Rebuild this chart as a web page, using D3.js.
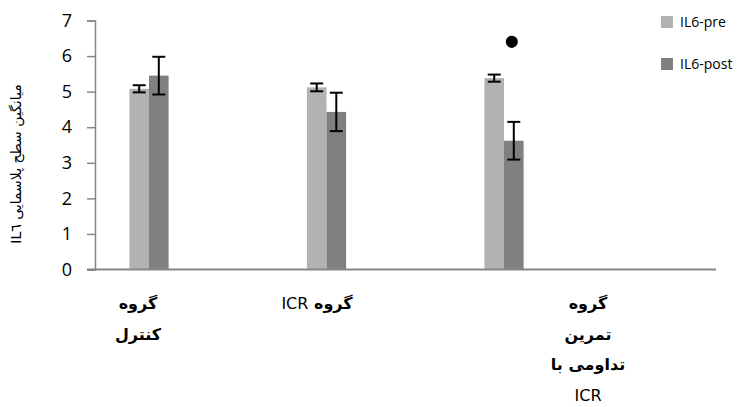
<!DOCTYPE html>
<html>
<head>
<meta charset="utf-8">
<script src="https://cdn.jsdelivr.net/npm/d3@7"></script>
<style>
  html, body { margin: 0; padding: 0; background: #fff; }
  svg { display: block; }
</style>
</head>
<body>
<svg id="chart" width="751" height="407"></svg>
<script>
// Group names (category labels, wrapped into lines)
const categories = ["control", "icr", "endurance_icr"];
const categoryLines = [
  ["گروه", "کنترل"],
  ["گروه ICR"],
  ["گروه", "تمرین", "تداومی با", "ICR"]
];
const seriesNames = ["IL6-pre", "IL6-post"];
const preValues = [5.08, 5.12, 5.38];
const postValues = [5.45, 4.43, 3.62];
const preErrors = [0.10, 0.11, 0.10];
const postErrors = [0.53, 0.54, 0.53];
// Significance marker sits above the post bar of the last group
const markerValue = [null, null, 6.4];
const yTicks = [0, 1, 2, 3, 4, 5, 6, 7];
const yTitle = "میانگین سطح پلاسمایی IL٦";

const colors = { "IL6-pre": "#b2b2b2", "IL6-post": "#808080" };
const values = { "IL6-pre": preValues, "IL6-post": postValues };
const errors = { "IL6-pre": preErrors, "IL6-post": postErrors };

const svg = d3.select("#chart");

const axisLeft = 95, axisRight = 716;
const y = d3.scaleLinear().domain([0, 7]).range([269.5, 20.5]);

// Group slots along the category axis
const x = d3.scaleBand().domain(categories).range([60.25, 592.75]).padding(0);
const xs = d3.scaleBand().domain(seriesNames).range([-19.6, 19.6]).padding(0);
const groupCenter = c => x(c) + x.bandwidth() / 2;

// Y axis
const yAxis = d3.axisLeft(y).tickValues(yTicks).tickSize(8).tickPadding(15).tickFormat(d3.format("d"));
const gy = svg.append("g").attr("transform", `translate(${axisLeft},0)`).call(yAxis);
gy.select(".domain").attr("stroke", "#868686").attr("stroke-width", 1.5);
gy.selectAll(".tick line").attr("stroke", "#868686").attr("stroke-width", 1.5);
gy.selectAll(".tick text")
  .attr("fill", "#000")
  .style("font-family", "'Open Sans', 'Liberation Sans', sans-serif")
  .style("font-size", "18px");

// Y axis title
svg.append("text")
  .attr("transform", `translate(21,${164}) rotate(-90)`)
  .attr("text-anchor", "middle")
  .attr("direction", "rtl")
  .style("font-family", "'DejaVu Sans', sans-serif")
  .style("font-size", "14px")
  .attr("fill", "#000")
  .text(yTitle);

// Bars
const rows = [];
categories.forEach((c, i) => {
  seriesNames.forEach(s => {
    rows.push({ c, s, v: values[s][i], e: errors[s][i] });
  });
});

svg.append("g").selectAll("rect").data(rows).join("rect")
  .attr("x", d => groupCenter(d.c) + xs(d.s))
  .attr("width", xs.bandwidth())
  .attr("y", d => y(d.v))
  .attr("height", d => y(0) - y(d.v))
  .attr("fill", d => colors[d.s]);

// Error bars
const eb = svg.append("g").attr("stroke", "#000").attr("stroke-width", 2);
rows.forEach(d => {
  const cx = groupCenter(d.c) + xs(d.s) + xs.bandwidth() / 2;
  eb.append("line").attr("x1", cx).attr("x2", cx).attr("y1", y(d.v + d.e)).attr("y2", y(d.v - d.e));
  eb.append("line").attr("x1", cx - 6.5).attr("x2", cx + 6.5).attr("y1", y(d.v + d.e)).attr("y2", y(d.v + d.e));
  eb.append("line").attr("x1", cx - 6.5).attr("x2", cx + 6.5).attr("y1", y(d.v - d.e)).attr("y2", y(d.v - d.e));
});

// X axis line
svg.append("line")
  .attr("x1", axisLeft - 8).attr("x2", axisRight)
  .attr("y1", y(0)).attr("y2", y(0))
  .attr("stroke", "#868686").attr("stroke-width", 2);

// Significance marker
categories.forEach((c, i) => {
  if (markerValue[i] == null) return;
  const cx = groupCenter(c) + xs("IL6-post") + xs.bandwidth() / 2;
  svg.append("path")
    .attr("d", d3.symbol(d3.symbolCircle, 115)())
    .attr("transform", `translate(${cx - 2},${y(markerValue[i])})`)
    .attr("fill", "#000");
});

// Category labels: Persian words in bold, Latin abbreviations in regular weight
const labelDx = [-11, -9.5, 84];
categories.forEach((c, i) => {
  const t = svg.append("text")
    .attr("text-anchor", "middle")
    .attr("direction", "rtl")
    .style("font-family", "'DejaVu Sans', sans-serif")
    .style("font-size", "16px")
    .attr("fill", "#000");
  categoryLines[i].forEach((line, j) => {
    const lineSpan = t.append("tspan")
      .attr("x", groupCenter(c) + labelDx[i])
      .attr("y", 309 + j * 30.5);
    line.split(/(ICR)/).filter(p => p.length).forEach(part => {
      lineSpan.append("tspan")
        .style("font-weight", part === "ICR" ? "normal" : "bold")
        .text(part);
    });
  });
});

// Legend
const lg = svg.append("g");
seriesNames.forEach((s, i) => {
  const ly = 22 + i * 42;
  lg.append("rect").attr("x", 661).attr("y", ly - 6).attr("width", 12).attr("height", 12).attr("fill", colors[s]);
  lg.append("text").attr("x", 680).attr("y", ly + 5)
    .style("font-family", "'Open Sans', 'Liberation Sans', sans-serif")
    .style("font-size", "14px")
    .attr("fill", "#000")
    .text(s);
});
</script>
</body>
</html>
